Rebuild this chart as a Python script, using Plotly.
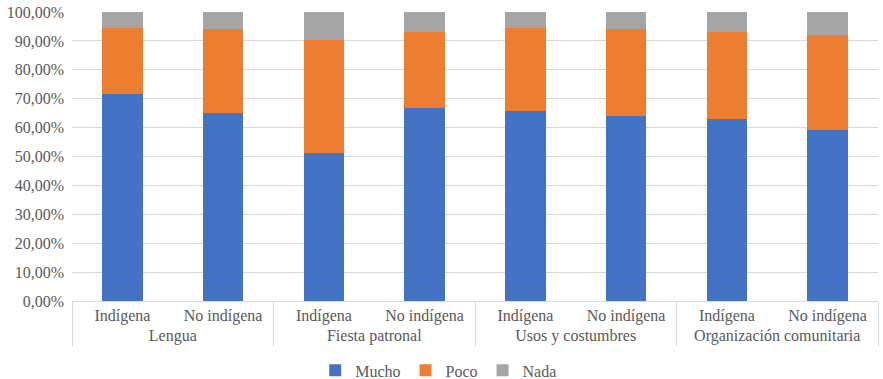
import plotly.graph_objects as go

groups = ["Lengua", "Lengua", "Fiesta patronal", "Fiesta patronal",
          "Usos y costumbres", "Usos y costumbres",
          "Organización comunitaria", "Organización comunitaria"]
subgroups = ["Indígena", "No indígena"] * 4

mucho = [0.716, 0.651, 0.512, 0.669, 0.657, 0.640, 0.629, 0.591]
poco = [0.229, 0.290, 0.391, 0.262, 0.288, 0.301, 0.302, 0.331]
nada = [0.055, 0.059, 0.097, 0.069, 0.055, 0.059, 0.069, 0.078]

series = [("Mucho", mucho, "#4472C4"), ("Poco", poco, "#ED7D31"), ("Nada", nada, "#A5A5A5")]

fig = go.Figure()
for name, vals, color in series:
    fig.add_trace(go.Bar(x=[groups, subgroups], y=vals, name=name,
                         marker=dict(color=color, line=dict(width=0))))

font = "Liberation Serif"
fig.update_layout(
    barmode="stack",
    bargap=0.6,
    separators=",.",
    width=883, height=379,
    margin=dict(l=72, r=5, t=12, b=78, autoexpand=False),
    paper_bgcolor="white", plot_bgcolor="white",
    font=dict(family=font, size=16, color="#595959"),
    legend=dict(orientation="h", x=0.455, xanchor="center", y=-0.24,
                yanchor="middle", itemwidth=30,
                font=dict(size=16, color="#595959"), traceorder="normal"),
    yaxis=dict(range=[0, 1], dtick=0.1, tickformat=".2%", showgrid=True,
               gridcolor="#D9D9D9", gridwidth=1, zeroline=False,
               tickfont=dict(size=16, color="#595959"), ticks="", showline=False,
               ticklabelstandoff=7),
    xaxis=dict(type="multicategory", showline=True, linecolor="#D9D9D9",
               dividercolor="#D9D9D9", dividerwidth=1, showdividers=True,
               tickfont=dict(size=16, color="#595959")),
)

fig.write_html("out.html")
